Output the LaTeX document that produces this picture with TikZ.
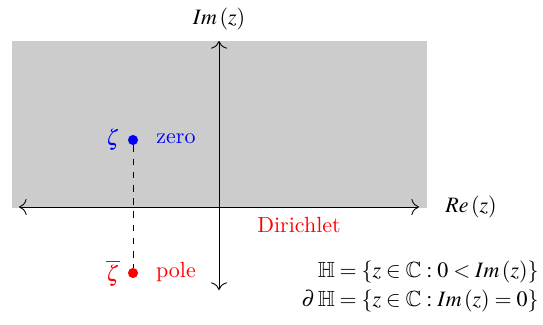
\documentclass[tikz,border=0pt]{standalone}
\usepackage{amsmath,amssymb}
\usepackage{mathptmx}
\usetikzlibrary{positioning,arrows.meta}
\newcommand{\imz}{\boldsymbol{Im}\,(z)}
\newcommand{\rez}{\boldsymbol{Re}\,(z)}
\begin{document}
\begin{tikzpicture}[x=0.455pt,y=-0.455pt,line width=0.4pt,
  >={To[scale=1.4]},
  dot/.style={circle,fill,inner sep=0pt,minimum size=4.6pt},
  axis/.style={<->}]
\useasboundingbox (0,0) rectangle (543,324);
\fill[gray!40] (12,41) rectangle (427,208);
% axes
\coordinate (xl) at (19,207);
\coordinate (xr) at (419,207);
\coordinate (yt) at (219,41);
\coordinate (yb) at (219,290);
\draw[axis] (xl) -- (xr);
\draw[axis] (yb) -- (yt);
\node (im) at (219,19) {$\imz$};
\node (re) at (471,207) {$\rez$};
\node[red] (dir) at (299,225) {Dirichlet};
% zero and pole
\node[dot,blue] (zeta) at (133,140) {};
\node[dot,red] (zetabar) at (133,273) {};
\draw[dashed] (zeta) -- (zetabar);
\node[blue,left=0pt of zeta] (zl) {$\boldsymbol{\zeta}$};
\node[blue] (zero) at (176,139) {zero};
\node[red,left=0pt of zetabar] (pl) {$\overline{\boldsymbol{\zeta}}$};
\node[red] (pole) at (176,272) {pole};
% domain
\node[anchor=east,inner sep=0pt] (dom) at (539,287)
  {$\begin{aligned}\mathbb{H}&=\{z\in\mathbb{C}:0<\imz\}\\[-2pt]
   \partial\,\mathbb{H}&=\{z\in\mathbb{C}:\imz=0\}\end{aligned}$};
\end{tikzpicture}
\end{document}
